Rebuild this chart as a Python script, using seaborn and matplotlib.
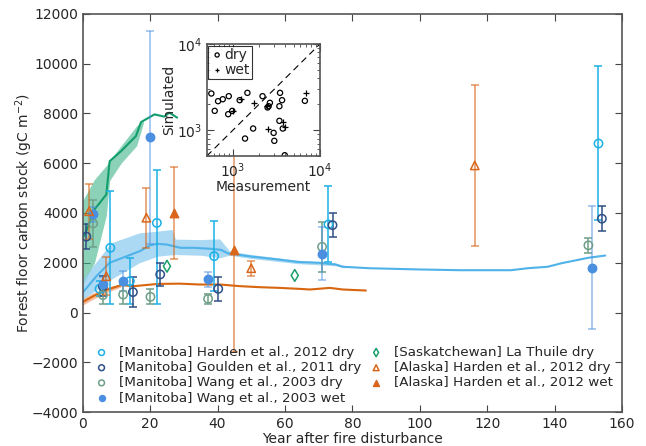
import numpy as np
import seaborn as sns
import matplotlib.pyplot as plt
from matplotlib.ticker import LogLocator

# ---- simulated curves ----
green_x = [0, 1, 3.5, 7, 8, 11.4, 15.8, 17.3, 21.3, 24.2, 25.7, 28]
green_y = [3000, 3250, 4140, 4740, 6080, 6485, 7090, 7650, 7960, 7870, 8030, 7830]
green_band_x = [0, 3.5, 7, 8, 11.4, 16, 18]
green_band_lo = [1100, 2000, 3900, 5300, 6000, 6700, 7600]
green_band_hi = [4500, 5350, 5900, 6100, 6700, 7500, 7700]

blue_x = [0, 4, 8, 13, 17, 20, 22, 25, 29, 33, 38, 41, 43, 50, 58, 64, 70, 75, 77,
          85, 100, 112, 127, 132, 138, 142, 150, 155]
blue_y = [800, 1450, 2000, 2260, 2470, 2700, 2760, 2730, 2600, 2600, 2560, 2520, 2380,
          2250, 2130, 2030, 2000, 1930, 1840, 1780, 1730, 1700, 1700, 1780, 1840, 1980,
          2200, 2290]
blue_band_x = [0, 8.4, 16.8, 22.3, 26.5, 27.5, 35, 40.6, 42, 43.6, 50, 64, 75, 78]
blue_band_lo = [520, 1330, 2000, 2265, 2320, 2330, 2300, 2200, 2250, 2300, 2170, 1960, 1880, 1790]
blue_band_hi = [1330, 2800, 3200, 3270, 3340, 2950, 2930, 2960, 2730, 2470, 2330, 2100, 1990, 1880]

orange_x = [0, 3, 7.4, 11.4, 15.3, 22.3, 28.8, 34.7, 40.7, 46.6, 52.5, 58.5, 64.4,
            67.4, 73.3, 77.2, 84]
orange_y = [420, 650, 925, 1100, 1060, 1150, 1160, 1126, 1126, 1060, 1018, 990, 950,
            925, 990, 925, 884]
orange_band_x = [0, 3, 7.4, 11.4]
orange_band_lo = [300, 530, 820, 1030]
orange_band_hi = [560, 780, 1030, 1150]

# ---- observations ----
hm_dry_x = [5, 8.2, 14, 22, 39, 72.9, 153]
hm_dry_y = [950, 2600, 1260, 3600, 2265, 3540, 6790]
hm_dry_lo = [300, 2240, 900, 3240, 1410, 1520, 3080]
hm_dry_hi = [300, 2280, 940, 2120, 1400, 1540, 3110]

gd_dry_x = [1.1, 6, 14.9, 23, 40.2, 74.1, 154]
gd_dry_y = [3050, 1050, 820, 1530, 950, 3510, 3770]
gd_dry_err = [500, 400, 600, 470, 490, 490, 490]

wd_dry_x = [3.1, 6, 12, 20.1, 37.2, 71, 150]
wd_dry_y = [3580, 700, 720, 630, 550, 2640, 2700]
wd_dry_err = [940, 370, 370, 300, 200, 1000, 300]

ww_wet_x = [3.1, 6, 12, 20.1, 37.2, 71, 151]
ww_wet_y = [3940, 1130, 1260, 7040, 1330, 2370, 1800]
ww_wet_err = [300, 300, 400, 4290, 300, 1050, 2480]

lt_dry_x = [25, 62.9]
lt_dry_y = [1860, 1490]

ak_dry_x = [1.9, 7, 18.9, 50, 116.3]
ak_dry_y = [4070, 1460, 3810, 1780, 5910]
ak_dry_err = [1100, 770, 1200, 310, 3250]

ak_wet_x = [27.1, 44.9]
ak_wet_y = [4010, 2530]
ak_wet_err = [1850, 4100]

# ---- inset: measurement vs simulated ----
in_dry_meas = [565, 618, 675, 765, 897, 883, 983, 1197, 1469, 1380, 1710, 2195, 2507,
               2667, 2580, 3490, 3430, 3680, 3430, 3750, 2944, 2997, 3955, 6740]
in_dry_sim = [2670, 1678, 2175, 2290, 2485, 1535, 1678, 2233, 2717, 800, 1046, 2485,
              1837, 2080, 1900, 2717, 1900, 2233, 1284, 1046, 931, 752, 512, 2193]
in_wet_meas = [1227, 1000, 1755, 2443, 2507, 3810, 4030, 6870]
in_wet_sim = [2333, 1678, 2080, 1900, 1046, 1250, 1075, 2670]

c_hm = '#1cb0e6'
c_gd = '#2f4f86'
c_wd = '#6f9f88'
c_ww = '#4a8fe0'
c_lt = '#1a9e6a'
c_ak = '#d9661a'

sns.set_style('ticks')
plt.rcParams['font.family'] = ['DejaVu Sans']
plt.rcParams['xtick.direction'] = 'in'
plt.rcParams['ytick.direction'] = 'in'

fig = plt.figure(figsize=(6.46, 4.46), dpi=100)
ax = fig.add_axes([0.128, 0.076, 0.835, 0.893])

# simulated bands and lines
ax.fill_between(green_band_x, green_band_lo, green_band_hi, color='#3fb58a', alpha=0.6, lw=0)
ax.fill_between(blue_band_x, blue_band_lo, blue_band_hi, color='#8fcdf0', alpha=0.75, lw=0)
ax.fill_between(orange_band_x, orange_band_lo, orange_band_hi, color='#f0a070', alpha=0.7, lw=0)
sns.lineplot(x=green_x, y=green_y, color='#119e6c', lw=1.5, ax=ax)
sns.lineplot(x=blue_x, y=blue_y, color='#4fb2e8', lw=1.5, ax=ax)
sns.lineplot(x=orange_x, y=orange_y, color='#d8650f', lw=1.5, ax=ax)

# error bars
eb = dict(fmt='none', capsize=3, elinewidth=1.1, capthick=1.1)
ax.errorbar(hm_dry_x, hm_dry_y, yerr=[hm_dry_lo, hm_dry_hi], ecolor=c_hm, **eb)
ax.errorbar(gd_dry_x, gd_dry_y, yerr=gd_dry_err, ecolor=c_gd, **eb)
ax.errorbar(wd_dry_x, wd_dry_y, yerr=wd_dry_err, ecolor=c_wd, **eb)
ax.errorbar(ww_wet_x, ww_wet_y, yerr=ww_wet_err, ecolor=c_ww, alpha=0.6, **eb)
ax.errorbar(ak_dry_x, ak_dry_y, yerr=ak_dry_err, ecolor=c_ak, alpha=0.7, **eb)
ax.errorbar(ak_wet_x, ak_wet_y, yerr=ak_wet_err, ecolor=c_ak, alpha=0.7, **eb)

# markers
mk = dict(s=36, linewidth=1.1, ax=ax, zorder=5)
sns.scatterplot(x=hm_dry_x, y=hm_dry_y, marker='o', facecolor='none', edgecolor=c_hm,
                label='[Manitoba] Harden et al., 2012 dry', **mk)
sns.scatterplot(x=gd_dry_x, y=gd_dry_y, marker='o', facecolor='none', edgecolor=c_gd,
                label='[Manitoba] Goulden et al., 2011 dry', **mk)
sns.scatterplot(x=wd_dry_x, y=wd_dry_y, marker='o', facecolor='none', edgecolor=c_wd,
                label='[Manitoba] Wang et al., 2003 dry', **mk)
sns.scatterplot(x=ww_wet_x, y=ww_wet_y, marker='o', facecolor=c_ww, edgecolor=c_ww,
                label='[Manitoba] Wang et al., 2003 wet', **mk)
sns.scatterplot(x=lt_dry_x, y=lt_dry_y, marker='d', facecolor='none', edgecolor=c_lt,
                label='[Saskatchewan] La Thuile dry', **mk)
sns.scatterplot(x=ak_dry_x, y=ak_dry_y, marker='^', facecolor='none', edgecolor=c_ak,
                label='[Alaska] Harden et al., 2012 dry', **mk)
sns.scatterplot(x=ak_wet_x, y=ak_wet_y, marker='^', facecolor=c_ak, edgecolor=c_ak,
                label='[Alaska] Harden et al., 2012 wet', **mk)

ax.set_xlim(0, 160)
ax.set_ylim(-4000, 12000)
ax.set_xticks(np.arange(0, 161, 20))
ax.set_yticks(np.arange(-4000, 12001, 2000))
ax.tick_params(top=True, right=True, labelsize=10, length=5, color='#444444')
for sp in ax.spines.values():
    sp.set_color('#555555')
    sp.set_linewidth(1.2)
ax.set_xlabel('Year after fire disturbance', fontsize=10, labelpad=1)
ax.set_ylabel('Forest floor carbon stock (gC m$^{-2}$)', fontsize=10, labelpad=-3)
ax.legend(loc='lower left', bbox_to_anchor=(0.0, -0.0115), ncol=2, frameon=False,
          fontsize=9.7, markerscale=0.7, handletextpad=0.8, columnspacing=0.6,
          labelspacing=0.16, handlelength=1.0)

# inset
ins = fig.add_axes([0.320, 0.650, 0.175, 0.251])
ins.set_xscale('log')
ins.set_yscale('log')
ins.plot([500, 10000], [500, 10000], color='black', ls=(0, (6, 4)), lw=0.8)
sns.scatterplot(x=in_dry_meas, y=in_dry_sim, marker='o', facecolor='none', edgecolor='black',
                s=14, linewidth=0.9, ax=ins, label='dry')
sns.scatterplot(x=in_wet_meas, y=in_wet_sim, marker='+', color='black', s=18,
                linewidth=0.9, ax=ins, label='wet')
ins.set_xlim(500, 10000)
ins.set_ylim(500, 10000)
ins.xaxis.set_major_locator(LogLocator(base=10, numticks=5))
ins.yaxis.set_major_locator(LogLocator(base=10, numticks=5))
ins.tick_params(which='both', top=True, right=True, labelsize=10, color='#444444')
ins.tick_params(which='major', length=5)
ins.tick_params(which='minor', length=2.5)
for sp in ins.spines.values():
    sp.set_color('#555555')
    sp.set_linewidth(1.2)
ins.set_xlabel('Measurement', fontsize=10, labelpad=0)
ins.set_ylabel('Simulated', fontsize=10, labelpad=0)
leg = ins.legend(loc='upper left', fontsize=10, handletextpad=0.0, borderpad=0.15,
                 labelspacing=0.1, handlelength=1.0, borderaxespad=0.1, fancybox=False,
                 markerscale=0.8)
leg.get_frame().set_edgecolor('black')
leg.get_frame().set_linewidth(0.8)

fig.savefig('out.png', dpi=100)
